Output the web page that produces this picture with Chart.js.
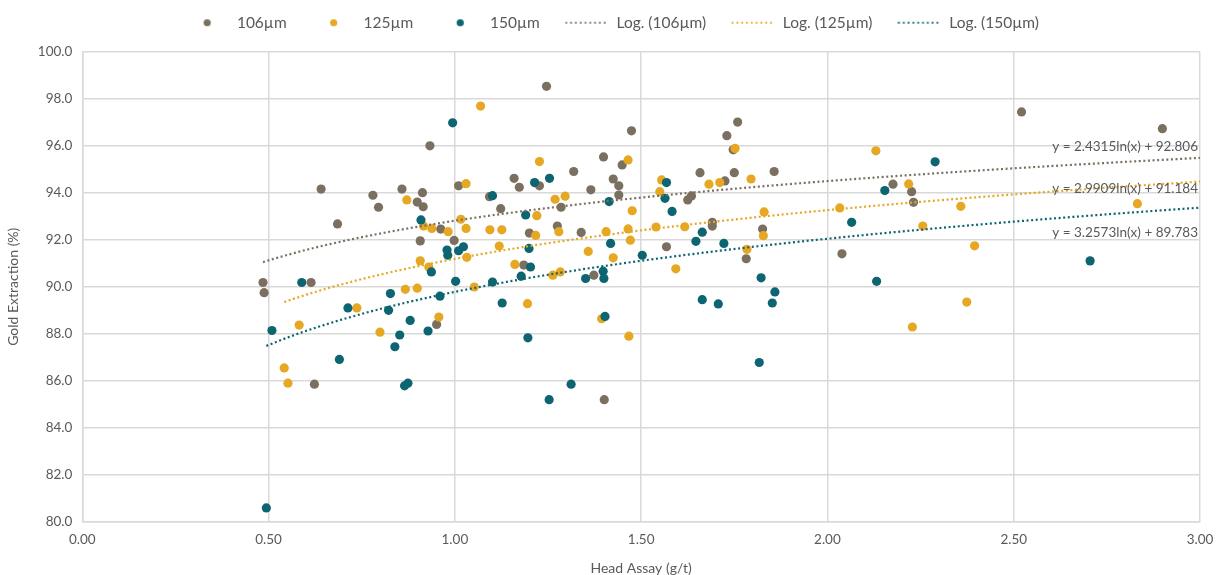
<!DOCTYPE html>
<html lang="en">
<head>
    <meta charset="UTF-8">
    <title>Gold Extraction vs Head Assay</title>
    <script src="https://cdn.jsdelivr.net/npm/chart.js"></script>
    <style>
        body {
            margin: 0;
            background: #ffffff;
            font-family: Lato, "Open Sans", sans-serif;
        }
        #wrap {
            width: 1219px;
            height: 575px;
        }
    </style>
</head>
<body>
    <div id="wrap"><canvas id="goldChart"></canvas></div>

    <script>
        // 106µm screen : head assay (g/t) and gold extraction (%)
        const x106 = [0.485, 0.488, 0.614, 0.623, 0.641, 0.685, 0.780, 0.795, 0.858, 0.899, 0.913, 0.915, 0.907, 0.933, 0.951,
            0.962, 0.998, 1.010, 1.093, 1.123, 1.159, 1.173, 1.185, 1.200, 1.227, 1.246, 1.275, 1.285, 1.319, 1.339,
            1.365, 1.373, 1.399, 1.401, 1.425, 1.440, 1.440, 1.449, 1.474, 1.568, 1.625, 1.635, 1.658, 1.691, 1.691,
            1.725, 1.730, 1.747, 1.750, 1.759, 1.782, 1.826, 1.857, 2.039, 2.176, 2.226, 2.231, 2.521, 2.899];
        const y106 = [90.18, 89.75, 90.18, 85.86, 94.15, 92.67, 93.89, 93.38, 94.15, 93.60, 94.00, 93.40, 91.95, 95.99, 88.40,
            92.45, 91.97, 94.29, 93.83, 93.32, 94.61, 94.23, 90.92, 92.28, 94.29, 98.52, 92.58, 93.38, 94.90, 92.31,
            94.12, 90.49, 95.52, 85.20, 94.58, 94.29, 93.90, 95.18, 96.63, 91.70, 93.69, 93.86, 94.85, 92.74, 92.58,
            94.50, 96.42, 95.82, 94.85, 97.00, 91.19, 92.45, 94.90, 91.40, 94.36, 94.04, 93.59, 97.43, 96.72];

        // 125µm screen
        const x125 = [0.542, 0.552, 0.582, 0.737, 0.799, 0.867, 0.871, 0.899, 0.907, 0.916, 0.930, 0.938, 0.957, 0.982, 1.016,
            1.030, 1.030, 1.032, 1.052, 1.069, 1.094, 1.119, 1.126, 1.161, 1.195, 1.217, 1.220, 1.227, 1.263, 1.269,
            1.279, 1.283, 1.296, 1.358, 1.394, 1.406, 1.425, 1.465, 1.465, 1.467, 1.471, 1.476, 1.540, 1.550, 1.555,
            1.593, 1.617, 1.682, 1.711, 1.752, 1.784, 1.795, 1.828, 1.830, 2.033, 2.130, 2.218, 2.228, 2.256, 2.358,
            2.374, 2.395, 2.832];
        const y125 = [86.55, 85.90, 88.37, 89.10, 88.07, 89.89, 93.69, 89.94, 91.10, 92.58, 90.84, 92.48, 88.71, 92.34, 92.87,
            92.48, 94.38, 91.25, 89.99, 97.68, 92.42, 91.73, 92.42, 90.95, 89.28, 92.18, 93.02, 95.32, 90.49, 93.72,
            92.34, 90.63, 93.85, 91.50, 88.64, 92.34, 91.23, 95.39, 92.46, 87.90, 91.98, 93.23, 92.54, 94.04, 94.54,
            90.76, 92.55, 94.36, 94.43, 95.88, 91.59, 94.58, 92.17, 93.18, 93.35, 95.78, 94.37, 88.29, 92.58, 93.42,
            89.35, 91.74, 93.53];

        // 150µm screen
        const x150 = [0.494, 0.509, 0.589, 0.690, 0.713, 0.822, 0.827, 0.839, 0.852, 0.865, 0.874, 0.880, 0.909, 0.928, 0.937,
            0.960, 0.979, 0.981, 0.994, 1.002, 1.010, 1.023, 1.101, 1.101, 1.127, 1.178, 1.190, 1.196, 1.199, 1.203,
            1.214, 1.253, 1.254, 1.312, 1.351, 1.398, 1.400, 1.403, 1.414, 1.418, 1.503, 1.564, 1.568, 1.583, 1.647,
            1.664, 1.664, 1.707, 1.722, 1.817, 1.822, 1.852, 1.859, 2.065, 2.132, 2.154, 2.289, 2.705];
        const y150 = [80.60, 88.14, 90.18, 86.91, 89.10, 89.00, 89.71, 87.45, 87.95, 85.79, 85.90, 88.57, 92.84, 88.12, 90.63,
            89.60, 91.56, 91.34, 96.97, 90.23, 91.53, 91.70, 93.87, 90.20, 89.31, 90.45, 93.05, 87.83, 91.63, 90.84,
            94.43, 85.20, 94.61, 85.86, 90.35, 90.66, 90.35, 88.74, 93.62, 91.84, 91.34, 93.76, 94.43, 93.20, 91.93,
            92.32, 89.45, 89.27, 91.84, 86.78, 90.38, 89.31, 89.78, 92.74, 90.23, 94.09, 95.31, 91.10];

        // logarithmic trendlines as printed on the chart : y = a ln(x) + b
        const seriesNames = ['106µm', '125µm', '150µm'];
        const trendA = [2.4315, 2.9909, 3.2573];
        const trendB = [92.806, 91.184, 89.783];
        const trendLabels = ['y = 2.4315ln(x) + 92.806', 'y = 2.9909ln(x) + 91.184', 'y = 3.2573ln(x) + 89.783'];
        const labelY = [95.96, 94.15, 92.31];

        const colours = ['#7b6f60', '#e6a823', '#0c6571'];
        const textGrey = '#595959';
        const gridGrey = '#d9d9d9';

        const xTicks = [0, 0.5, 1, 1.5, 2, 2.5, 3];
        const yTicks = [80, 82, 84, 86, 88, 90, 92, 94, 96, 98, 100];

        function points(xs, ys) {
            return xs.map((x, i) => ({ x: x, y: ys[i] }));
        }

        // curve of the fitted equation from the smallest assay to the right edge
        function trendPoints(xs, a, b) {
            const start = Math.min(...xs);
            const pts = [];
            for (let x = start; x < 3; x += 0.02) {
                pts.push({ x: x, y: a * Math.log(x) + b });
            }
            pts.push({ x: 3, y: a * Math.log(3) + b });
            return pts;
        }

        // small pictures for the legend markers
        function dotImage(colour) {
            const c = document.createElement('canvas');
            c.width = 9; c.height = 9;
            const g = c.getContext('2d');
            g.fillStyle = colour;
            g.beginPath();
            g.arc(4.5, 4.5, 3.6, 0, Math.PI * 2);
            g.fill();
            return c;
        }
        function dottedImage(colour) {
            const c = document.createElement('canvas');
            c.width = 44; c.height = 4;
            const g = c.getContext('2d');
            g.fillStyle = colour;
            for (let x = 1.5; x < 44; x += 4.8) {
                g.beginPath();
                g.arc(x, 2, 1.1, 0, Math.PI * 2);
                g.fill();
            }
            return c;
        }

        const allX = [x106, x125, x150];
        const allY = [y106, y125, y150];

        const datasets = [];
        seriesNames.forEach((name, i) => {
            datasets.push({
                type: 'scatter',
                label: name,
                data: points(allX[i], allY[i]),
                backgroundColor: colours[i],
                borderColor: colours[i],
                pointRadius: 4.6,
                pointBorderWidth: 0,
                order: 10 - i,
                legendMarker: dotImage(colours[i])
            });
        });
        seriesNames.forEach((name, i) => {
            datasets.push({
                type: 'line',
                label: 'Log. (' + name + ')',
                data: trendPoints(allX[i], trendA[i], trendB[i]),
                borderColor: colours[i],
                borderWidth: 2.2,
                borderDash: [2, 2.6],
                pointRadius: 0,
                fill: false,
                tension: 0,
                order: 3 - i,
                legendMarker: dottedImage(colours[i])
            });
        });

        // equation text at the right end of each trendline
        const equationLabels = {
            id: 'equationLabels',
            afterDatasetsDraw(chart) {
                const ctx = chart.ctx;
                const xs = chart.scales.x;
                const ys = chart.scales.y;
                ctx.save();
                ctx.font = '13.5px Lato, sans-serif';
                ctx.fillStyle = textGrey;
                ctx.textAlign = 'right';
                ctx.textBaseline = 'middle';
                trendLabels.forEach((t, i) => {
                    ctx.fillText(t, xs.getPixelForValue(3) - 2, ys.getPixelForValue(labelY[i]));
                });
                ctx.restore();
            }
        };

        // more room between the legend row and the plot
        const legendGap = {
            id: 'legendGap',
            beforeInit(chart) {
                const fit = chart.legend.fit;
                chart.legend.fit = function () {
                    fit.bind(chart.legend)();
                    this.height += 11;
                };
            }
        };

        Chart.defaults.font.family = 'Lato, "Open Sans", sans-serif';
        Chart.defaults.color = textGrey;

        new Chart(document.getElementById('goldChart'), {
            type: 'scatter',
            data: { datasets: datasets },
            options: {
                responsive: true,
                maintainAspectRatio: false,
                animation: false,
                layout: { padding: { left: 5, right: 0, top: -10, bottom: -2 } },
                plugins: {
                    tooltip: { enabled: false },
                    legend: {
                        position: 'top',
                        labels: {
                            usePointStyle: true,
                            pointStyleWidth: 44,
                            padding: 25,
                            color: textGrey,
                            font: { size: 15.5 },
                            generateLabels(chart) {
                                return chart.data.datasets.map((ds, i) => ({
                                    text: ds.label,
                                    fillStyle: ds.borderColor,
                                    strokeStyle: ds.borderColor,
                                    lineWidth: 0,
                                    pointStyle: ds.legendMarker,
                                    fontColor: textGrey,
                                    hidden: false,
                                    datasetIndex: i
                                }));
                            }
                        }
                    }
                },
                scales: {
                    x: {
                        type: 'linear',
                        min: 0,
                        max: 3,
                        afterBuildTicks(axis) {
                            axis.ticks = xTicks.map(v => ({ value: v }));
                        },
                        afterFit(axis) {
                            axis.paddingRight = 19;
                        },
                        ticks: {
                            font: { size: 13.5 },
                            color: textGrey,
                            padding: 10,
                            maxRotation: 0,
                            callback: v => Number(v).toFixed(2)
                        },
                        grid: { color: gridGrey, lineWidth: 1.5, drawTicks: false },
                        border: { color: gridGrey, width: 1.5 },
                        title: {
                            display: true,
                            text: 'Head Assay (g/t)',
                            color: textGrey,
                            font: { size: 14 },
                            padding: { top: 2, bottom: 0 }
                        }
                    },
                    y: {
                        min: 80,
                        max: 100,
                        afterBuildTicks(axis) {
                            axis.ticks = yTicks.map(v => ({ value: v }));
                        },
                        ticks: {
                            font: { size: 13.5 },
                            color: textGrey,
                            padding: 10,
                            callback: v => Number(v).toFixed(1)
                        },
                        grid: { color: gridGrey, lineWidth: 1.5, drawTicks: false },
                        border: { color: gridGrey, width: 1.5 },
                        title: {
                            display: true,
                            text: 'Gold Extraction (%)',
                            color: textGrey,
                            font: { size: 14 },
                            padding: { top: 0, bottom: 6 }
                        }
                    }
                }
            },
            plugins: [equationLabels, legendGap]
        });
    </script>
</body>
</html>
